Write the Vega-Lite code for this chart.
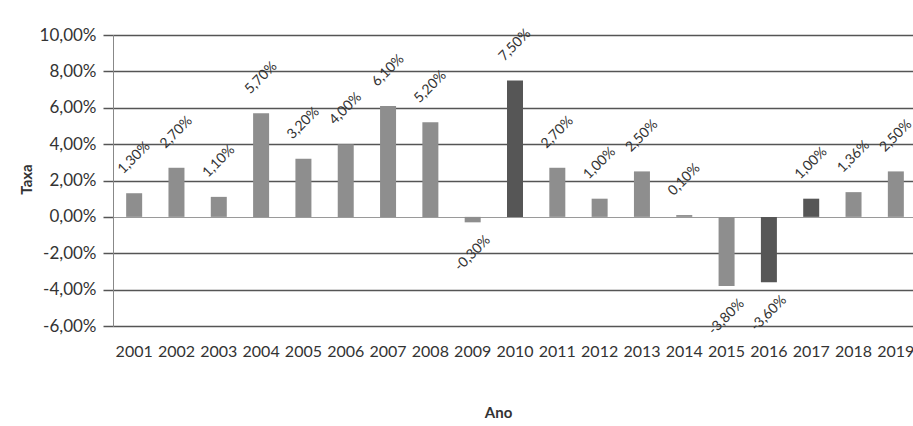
{
  "$schema": "https://vega.github.io/schema/vega-lite/v6.json",
  "autosize": {"type": "none"},
  "width": 800,
  "height": 291,
  "padding": {"left": 113, "top": 35, "right": 0, "bottom": 100},
  "background": "white",
  "config": {
    "view": {"stroke": null},
    "font": "Lato",
    "locale": {"number": {"decimal": ",", "thousands": ".", "grouping": [3], "currency": ["R$", ""], "minus": "-"}}
  },
  "data": {
    "values": [
      {"ano": "2001", "taxa": 0.013},
      {"ano": "2002", "taxa": 0.027},
      {"ano": "2003", "taxa": 0.011},
      {"ano": "2004", "taxa": 0.057},
      {"ano": "2005", "taxa": 0.032},
      {"ano": "2006", "taxa": 0.040},
      {"ano": "2007", "taxa": 0.061},
      {"ano": "2008", "taxa": 0.052},
      {"ano": "2009", "taxa": -0.003},
      {"ano": "2010", "taxa": 0.075},
      {"ano": "2011", "taxa": 0.027},
      {"ano": "2012", "taxa": 0.010},
      {"ano": "2013", "taxa": 0.025},
      {"ano": "2014", "taxa": 0.001},
      {"ano": "2015", "taxa": -0.038},
      {"ano": "2016", "taxa": -0.036},
      {"ano": "2017", "taxa": 0.010},
      {"ano": "2018", "taxa": 0.0136},
      {"ano": "2019", "taxa": 0.025}
    ]
  },
  "encoding": {
    "x": {
      "field": "ano",
      "type": "ordinal",
      "scale": {"range": [0, 804], "paddingInner": 0, "paddingOuter": 0},
      "axis": {
        "labelAngle": 0,
        "ticks": false,
        "domain": false,
        "labelPadding": 17,
        "labelFontSize": 16,
        "labelColor": "#333333",
        "title": "Ano",
        "titleFontSize": 15,
        "titleFontWeight": "bold",
        "titleColor": "#333333",
        "titleX": 385,
        "titleY": 86,
        "titleAlign": "center",
        "titleBaseline": "middle"
      }
    },
    "y": {
      "field": "taxa",
      "type": "quantitative",
      "scale": {"domain": [-0.06, 0.10], "nice": false},
      "axis": {
        "values": [-0.06, -0.04, -0.02, 0, 0.02, 0.04, 0.06, 0.08, 0.10],
        "format": ".2%",
        "grid": true,
        "gridColor": {"condition": {"test": "datum.value === 0", "value": "#9a9a9a"}, "value": "#555555"},
        "gridWidth": {"condition": {"test": "datum.value === 0", "value": 1}, "value": 1.5},
        "tickColor": "#555555",
        "tickWidth": 1.5,
        "tickSize": 10,
        "domainColor": "#888888",
        "labelPadding": 7,
        "labelFontSize": 17,
        "labelColor": "#333333",
        "title": "Taxa",
        "titleFontSize": 15,
        "titleFontWeight": "bold",
        "titleColor": "#333333",
        "titleX": -87,
        "titleY": 144,
        "titleAngle": 270,
        "titleAlign": "center",
        "titleBaseline": "middle"
      }
    }
  },
  "layer": [
    {
      "mark": {"type": "bar", "size": 16},
      "encoding": {
        "y2": {"datum": 0},
        "color": {
          "condition": {"test": "indexof(['2010','2016','2017'], datum.ano) >= 0", "value": "#565656"},
          "value": "#8e8e8e"
        }
      }
    },
    {
      "transform": [{"filter": "datum.taxa >= 0"}],
      "mark": {"type": "text", "angle": 315, "align": "center", "baseline": "middle", "dx": 25, "dy": -25, "fontSize": 14, "color": "#333333"},
      "encoding": {
        "text": {"field": "taxa", "type": "quantitative", "format": ".2%"}
      }
    },
    {
      "transform": [{"filter": "datum.taxa < 0"}],
      "mark": {"type": "text", "angle": 315, "align": "center", "baseline": "middle", "dx": -22, "dy": 22, "fontSize": 14, "color": "#333333"},
      "encoding": {
        "text": {"field": "taxa", "type": "quantitative", "format": ".2%"}
      }
    }
  ]
}
